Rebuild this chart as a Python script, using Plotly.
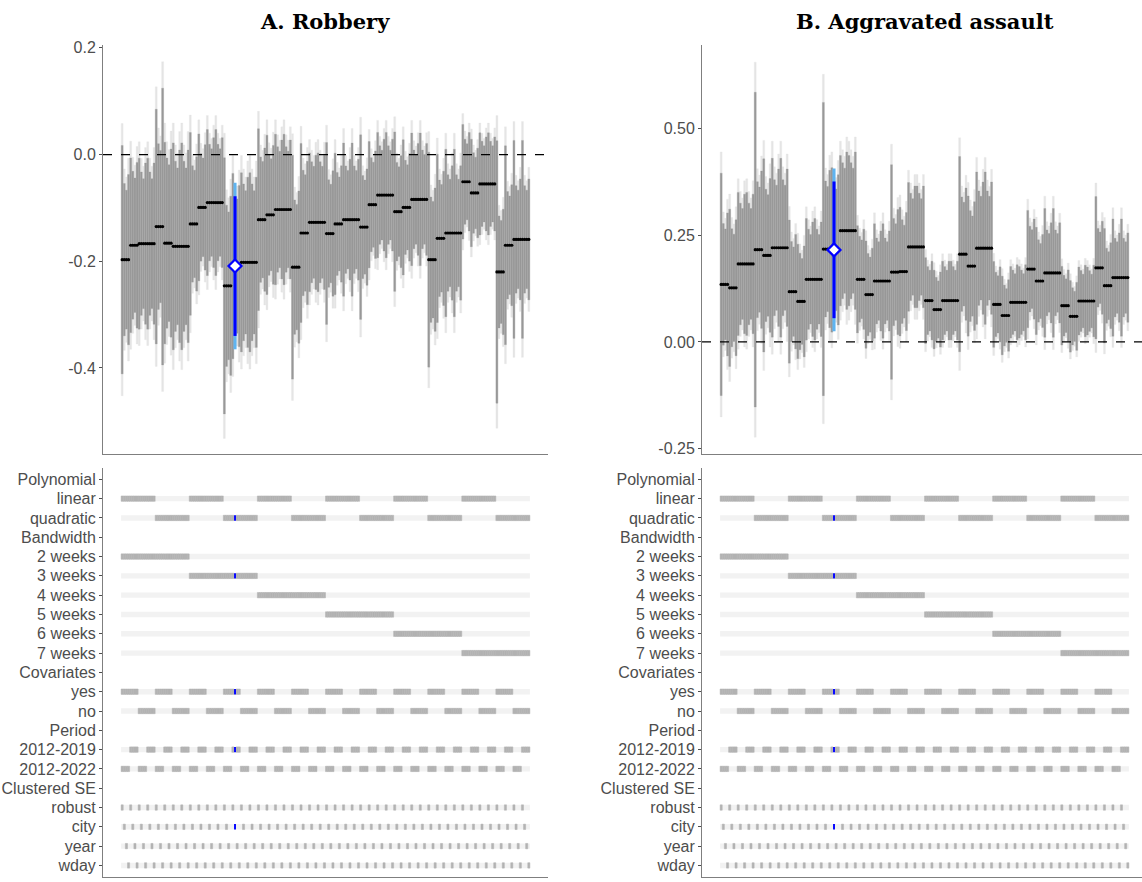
import numpy as np
import plotly.graph_objects as go

# ---------------- specification factors (order of specs on the x axis) ----------------
bandwidths = ["2 weeks", "3 weeks", "4 weeks", "5 weeks", "6 weeks", "7 weeks"]
polynomials = ["linear", "quadratic"]
covariates = ["yes", "no"]
periods_order = ["2012-2022", "2012-2019"]
cluster_se = ["robust", "city", "year", "wday"]

# rows of the specification table (top to bottom)
period_rows = ["2012-2019", "2012-2022"]
table_groups = [("Polynomial", polynomials), ("Bandwidth", bandwidths),
                ("Covariates", covariates), ("Period", period_rows),
                ("Clustered SE", cluster_se)]

highlight = {"bw": "3 weeks", "poly": "quadratic", "cov": "yes",
             "period": "2012-2019", "se": "city"}

# ---------------- A. Robbery : point estimates per model (4 SE variants share them) --------
A_est = [-0.197, -0.170, -0.167, -0.167, -0.135, -0.166, -0.172, -0.172,
         -0.130, -0.099, -0.090, -0.090, -0.246, -0.209, -0.202, -0.202,
         -0.122, -0.113, -0.103, -0.103, -0.211, -0.147, -0.127, -0.127,
         -0.148, -0.130, -0.122, -0.122, -0.136, -0.094, -0.076, -0.076,
         -0.107, -0.099, -0.084, -0.084, -0.197, -0.157, -0.147, -0.147,
         -0.051, -0.072, -0.055, -0.055, -0.220, -0.170, -0.159, -0.159]
# 95% CI half widths by clustered SE type
A_hw_robust = [0.255, 0.195, 0.191, 0.191, 0.262, 0.225, 0.231, 0.231,
               0.204, 0.164, 0.163, 0.163, 0.286, 0.207, 0.200, 0.200,
               0.203, 0.178, 0.168, 0.168, 0.250, 0.200, 0.155, 0.155,
               0.203, 0.158, 0.171, 0.171, 0.206, 0.141, 0.140, 0.140,
               0.178, 0.151, 0.148, 0.148, 0.240, 0.188, 0.187, 0.187,
               0.128, 0.120, 0.114, 0.114, 0.293, 0.222, 0.221, 0.221]
A_hw_city = [0.170, 0.165, 0.160, 0.160, 0.185, 0.190, 0.190, 0.190,
             0.130, 0.120, 0.130, 0.130, 0.180, 0.156, 0.175, 0.175,
             0.140, 0.135, 0.140, 0.140, 0.150, 0.140, 0.135, 0.135,
             0.120, 0.115, 0.120, 0.120, 0.115, 0.105, 0.110, 0.110,
             0.110, 0.105, 0.110, 0.110, 0.140, 0.130, 0.130, 0.130,
             0.095, 0.090, 0.095, 0.095, 0.125, 0.120, 0.120, 0.120]
A_hw_year = [0.155, 0.150, 0.145, 0.145, 0.170, 0.175, 0.175, 0.175,
             0.120, 0.110, 0.120, 0.120, 0.165, 0.150, 0.160, 0.160,
             0.130, 0.125, 0.130, 0.130, 0.140, 0.130, 0.125, 0.125,
             0.110, 0.105, 0.110, 0.110, 0.105, 0.095, 0.100, 0.100,
             0.100, 0.095, 0.100, 0.100, 0.130, 0.120, 0.120, 0.120,
             0.085, 0.080, 0.085, 0.085, 0.115, 0.110, 0.110, 0.110]
A_hw_wday = [0.190, 0.185, 0.180, 0.180, 0.309, 0.210, 0.215, 0.215,
             0.150, 0.140, 0.145, 0.145, 0.200, 0.180, 0.190, 0.190,
             0.160, 0.155, 0.155, 0.155, 0.170, 0.160, 0.150, 0.150,
             0.140, 0.130, 0.135, 0.135, 0.130, 0.120, 0.125, 0.125,
             0.125, 0.120, 0.125, 0.125, 0.160, 0.150, 0.150, 0.150,
             0.110, 0.100, 0.105, 0.105, 0.140, 0.135, 0.135, 0.135]

# ---------------- B. Aggravated assault ----------------
B_est = [0.135, 0.127, 0.183, 0.183, 0.2165, 0.203, 0.221, 0.221,
         0.118, 0.095, 0.147, 0.147, 0.218, 0.216, 0.261, 0.261,
         0.147, 0.111, 0.143, 0.143, 0.164, 0.165, 0.223, 0.223,
         0.097, 0.076, 0.097, 0.097, 0.206, 0.178, 0.220, 0.220,
         0.088, 0.062, 0.093, 0.093, 0.171, 0.143, 0.162, 0.162,
         0.085, 0.060, 0.096, 0.096, 0.174, 0.132, 0.151, 0.151]
B_hw_robust = [0.311, 0.220, 0.200, 0.200, 0.440, 0.270, 0.250, 0.250,
               0.200, 0.160, 0.170, 0.170, 0.410, 0.230, 0.210, 0.210,
               0.150, 0.150, 0.160, 0.160, 0.300, 0.180, 0.180, 0.170,
               0.120, 0.110, 0.110, 0.110, 0.273, 0.196, 0.213, 0.213,
               0.120, 0.110, 0.100, 0.100, 0.164, 0.150, 0.180, 0.180,
               0.110, 0.100, 0.095, 0.095, 0.199, 0.160, 0.164, 0.164]
B_hw_city = [0.170, 0.165, 0.170, 0.170, 0.190, 0.185, 0.190, 0.190,
             0.140, 0.135, 0.140, 0.140, 0.190, 0.191, 0.190, 0.190,
             0.120, 0.115, 0.120, 0.120, 0.150, 0.145, 0.150, 0.150,
             0.095, 0.090, 0.095, 0.095, 0.160, 0.155, 0.160, 0.160,
             0.090, 0.085, 0.090, 0.090, 0.120, 0.115, 0.120, 0.120,
             0.085, 0.080, 0.085, 0.085, 0.110, 0.105, 0.110, 0.110]
B_hw_year = [0.155, 0.150, 0.155, 0.155, 0.175, 0.170, 0.175, 0.175,
             0.125, 0.120, 0.125, 0.125, 0.175, 0.170, 0.175, 0.175,
             0.110, 0.105, 0.110, 0.110, 0.135, 0.130, 0.135, 0.135,
             0.085, 0.080, 0.085, 0.085, 0.145, 0.140, 0.145, 0.145,
             0.080, 0.075, 0.080, 0.080, 0.110, 0.105, 0.110, 0.110,
             0.075, 0.070, 0.075, 0.075, 0.100, 0.095, 0.100, 0.100]
B_hw_wday = [0.200, 0.190, 0.195, 0.195, 0.220, 0.215, 0.220, 0.220,
             0.160, 0.155, 0.160, 0.160, 0.220, 0.210, 0.220, 0.220,
             0.140, 0.130, 0.140, 0.140, 0.175, 0.165, 0.170, 0.170,
             0.110, 0.105, 0.110, 0.110, 0.185, 0.180, 0.185, 0.185,
             0.105, 0.100, 0.105, 0.105, 0.140, 0.130, 0.140, 0.140,
             0.100, 0.095, 0.100, 0.100, 0.130, 0.120, 0.125, 0.125]

A_ticks = [0.2, 0.0, -0.2, -0.4]
A_ticktext = ["0.2", "0.0", "-0.2", "-0.4"]
B_ticks = [0.50, 0.25, 0.00, -0.25]
B_ticktext = ["0.50", "0.25", "0.00", "-0.25"]

# ---------------- build spec table ----------------
specs = []
for bw in bandwidths:
    for p in polynomials:
        for c in covariates:
            for per in periods_order:
                for se in cluster_se:
                    specs.append({"Bandwidth": bw, "Polynomial": p, "Covariates": c,
                                  "Period": per, "Clustered SE": se})
n_specs = len(specs)
x_idx = np.arange(n_specs)
hl_idx = next(i for i, s in enumerate(specs)
              if s["Bandwidth"] == highlight["bw"] and s["Polynomial"] == highlight["poly"]
              and s["Covariates"] == highlight["cov"] and s["Period"] == highlight["period"]
              and s["Clustered SE"] == highlight["se"])

Z95, Z90 = 1.96, 1.645

def expand(est, r, c, y, w):
    e = np.repeat(np.array(est), 4)
    hw = np.column_stack([r, c, y, w]).ravel()
    return e, hw

# ---------------- figure geometry ----------------
W, H = 1142, 882
colors = dict(dark="#999999", light="#e5e5e5", blue="#0000ff", lblue="#5fb4f0",
              tile="#b3b3b3", bg="#f2f2f2")
font_sans = "Liberation Sans, Arial, sans-serif"

fig = go.Figure()

panels = [
    dict(name="A", est=A_est, hws=(A_hw_robust, A_hw_city, A_hw_year, A_hw_wday),
         xa="x", ya="y", xa2="x2", ya2="y2", ticks=A_ticks, ticktext=A_ticktext,
         yrange=[-0.561, 0.206], title="A. Robbery", xdom=[103 / W, 548 / W], xr=[-9, 200]),
    dict(name="B", est=B_est, hws=(B_hw_robust, B_hw_city, B_hw_year, B_hw_wday),
         xa="x3", ya="y3", xa2="x4", ya2="y4", ticks=B_ticks, ticktext=B_ticktext,
         yrange=[-0.2628, 0.6977], title="B. Aggravated assault", xdom=[702 / W, 1.0],
         xr=[-9, -9 + (1142 - 702) / (445 / 209)]),
]

# table rows
row_items = []  # (label, group, value or None)
for gname, vals in table_groups:
    row_items.append((gname, gname, None))
    for v in vals:
        row_items.append((v, gname, v))
n_rows = len(row_items)
row_y = {k: n_rows - k for k in range(n_rows)}

for P in panels:
    est, hw = expand(P["est"], *P["hws"])
    hw90 = hw * Z90 / Z95
    mask = x_idx != hl_idx
    xs = x_idx[mask]
    fig.add_trace(go.Bar(x=xs, base=(est - hw)[mask], y=(2 * hw)[mask], width=0.9,
                         marker=dict(color=colors["light"], line=dict(width=0.3, color=colors["light"])),
                         xaxis=P["xa"], yaxis=P["ya"], showlegend=False, hoverinfo="skip"))
    fig.add_trace(go.Bar(x=xs, base=(est - hw90)[mask], y=(2 * hw90)[mask], width=0.9,
                         marker=dict(color=colors["dark"], line=dict(width=0.3, color=colors["dark"])),
                         xaxis=P["xa"], yaxis=P["ya"], showlegend=False, hoverinfo="skip"))
    fig.add_trace(go.Bar(x=[hl_idx], base=[est[hl_idx] - hw[hl_idx]], y=[2 * hw[hl_idx]],
                         width=1.45, marker=dict(color=colors["lblue"], line=dict(width=0)),
                         xaxis=P["xa"], yaxis=P["ya"], showlegend=False, hoverinfo="skip"))
    fig.add_trace(go.Bar(x=[hl_idx], base=[est[hl_idx] - hw90[hl_idx]], y=[2 * hw90[hl_idx]],
                         width=1.45, marker=dict(color=colors["blue"], line=dict(width=0)),
                         xaxis=P["xa"], yaxis=P["ya"], showlegend=False, hoverinfo="skip"))
    fig.add_trace(go.Scatter(x=xs, y=est[mask], mode="markers",
                             marker=dict(color="black", size=3.2, line=dict(width=0)),
                             xaxis=P["xa"], yaxis=P["ya"], showlegend=False, hoverinfo="skip"))
    fig.add_trace(go.Scatter(x=[hl_idx], y=[est[hl_idx]], mode="markers",
                             marker=dict(symbol="diamond", color="white", size=10,
                                         line=dict(color=colors["blue"], width=2.2)),
                             xaxis=P["xa"], yaxis=P["ya"], showlegend=False, hoverinfo="skip"))

    bg_x, bg_y, bg_w = [], [], []
    t_x, t_y = [], []
    h_x, h_y = [], []
    for k, (lab, gname, val) in enumerate(row_items):
        if val is None:
            continue
        yy = row_y[k]
        bg_x.append((n_specs - 1) / 2)
        bg_y.append(yy)
        bg_w.append(n_specs)
        for i, s in enumerate(specs):
            if s[gname] == val:
                if i == hl_idx:
                    h_x.append(i)
                    h_y.append(yy)
                else:
                    t_x.append(i)
                    t_y.append(yy)
    th = 0.28
    fig.add_trace(go.Bar(x=bg_x, base=[v - th / 2 for v in bg_y], y=[th] * len(bg_y), width=bg_w,
                         marker=dict(color=colors["bg"], line=dict(width=0)),
                         xaxis=P["xa2"], yaxis=P["ya2"], showlegend=False, hoverinfo="skip"))
    fig.add_trace(go.Bar(x=t_x, base=[v - th / 2 for v in t_y], y=[th] * len(t_y), width=1.0,
                         marker=dict(color=colors["tile"], line=dict(width=0.5, color=colors["tile"])),
                         xaxis=P["xa2"], yaxis=P["ya2"], showlegend=False, hoverinfo="skip"))
    fig.add_trace(go.Bar(x=h_x, base=[v - th / 2 for v in h_y], y=[th] * len(h_y), width=0.9,
                         marker=dict(color=colors["blue"], line=dict(width=0)),
                         xaxis=P["xa2"], yaxis=P["ya2"], showlegend=False, hoverinfo="skip"))

axis_line = dict(showline=True, linecolor="#7f7f7f", linewidth=1, showgrid=False, zeroline=False)
tickfont = dict(family=font_sans, size=16, color="#4d4d4d")
top_dom = [1 - 453 / H, 1 - 40 / H]
bot_dom = [1 - 880 / H, 1 - 467 / H]

layout = dict(width=W, height=H, margin=dict(l=0, r=0, t=0, b=0),
              paper_bgcolor="white", plot_bgcolor="white", barmode="overlay",
              showlegend=False, annotations=[], shapes=[])

for j, P in enumerate(panels):
    n1 = "" if j == 0 else "3"
    n2 = "2" if j == 0 else "4"
    xa1, ya1 = "x" + n1, "y" + n1
    xa2, ya2 = "x" + n2, "y" + n2
    layout["xaxis" + n1] = dict(domain=P["xdom"], range=P["xr"], anchor=ya1,
                                showticklabels=False, ticks="", **axis_line)
    layout["yaxis" + n1] = dict(domain=top_dom, range=P["yrange"], anchor=xa1,
                                tickvals=P["ticks"], ticktext=P["ticktext"], ticks="outside",
                                ticklen=3, tickcolor="#4d4d4d", tickfont=tickfont, **axis_line)
    layout["xaxis" + n2] = dict(domain=P["xdom"], range=P["xr"], anchor=ya2,
                                showticklabels=False, ticks="", **axis_line)
    layout["yaxis" + n2] = dict(domain=bot_dom, range=[0.4, n_rows + 0.6], anchor=xa2,
                                tickvals=[row_y[k] for k in range(n_rows)],
                                ticktext=[r[0] for r in row_items], ticks="outside",
                                ticklen=3, tickcolor="#4d4d4d", tickfont=tickfont, **axis_line)
    layout["annotations"].append(dict(
        text="<b>%s</b>" % P["title"], x=(P["xdom"][0] + (P["xdom"][0] + 445 / W)) / 2,
        xref="paper", y=1 - 17 / H, yref="paper", showarrow=False, xanchor="center",
        yanchor="middle", font=dict(family="DejaVu Serif, serif", size=21, color="black")))
    layout["shapes"].append(dict(type="line", xref=xa1 + " domain", yref=ya1,
                                 x0=0, x1=1, y0=0, y1=0, layer="above",
                                 line=dict(color="black", width=1.3, dash="dash")))

fig.update_layout(**layout)
fig.write_html("out.html", config={"displayModeBar": False, "staticPlot": True},
               post_script="document.body.style.margin='0';document.body.style.padding='0';")
